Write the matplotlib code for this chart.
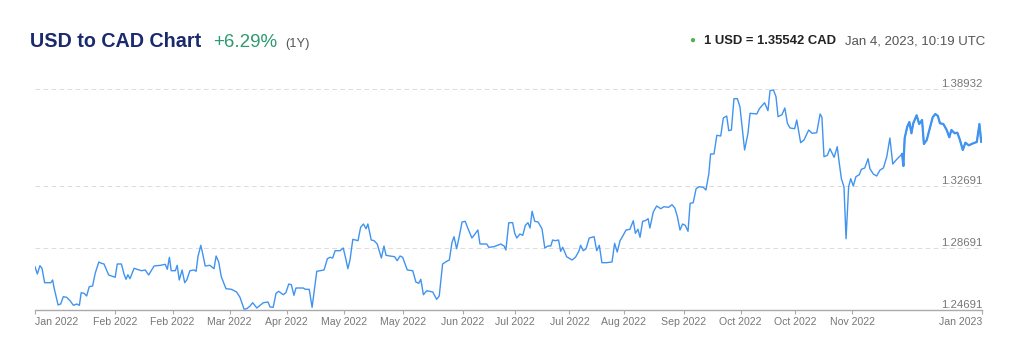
import numpy as np
import pandas as pd
import matplotlib
matplotlib.use("Agg")
import matplotlib.pyplot as plt

plt.rcParams['font.family'] = ['Liberation Sans', 'DejaVu Sans']

# days since 2022-01-04 and USD/CAD rate
days = [0.0, 0.9, 1.9, 2.7, 3.7, 6.1, 6.8, 7.3, 8.9, 9.9, 10.9, 12.2, 13.5, 14.8, 16.1, 17.1,
        17.8, 18.9, 19.9, 20.9, 22.2, 23.2, 24.6, 25.6, 26.6, 28.4, 30.9, 31.7, 33.3, 34.3, 35.1,
        35.8, 36.6, 38.2, 39.4, 41.0, 42.5, 43.8, 45.9, 48.4, 50.2, 51.0, 51.8, 52.5, 54.1, 54.8,
        55.6, 56.7, 57.7, 58.5, 59.7, 61.3, 62.1, 62.8, 63.9, 64.6, 65.6, 67.4, 69.0, 69.8, 70.8,
        71.8, 73.6, 75.7, 77.7, 79.0, 80.6, 81.6, 82.9, 83.9, 85.5, 88.0, 89.8, 90.6, 91.8, 92.9,
        93.9, 95.7, 96.7, 97.8, 98.8, 99.8, 100.6, 103.4, 104.2, 105.7, 106.8, 108.6, 109.8, 111.4,
        112.7, 113.7, 114.7, 115.7, 117.6, 118.8, 119.6, 120.6, 121.4, 122.5, 123.5, 124.5, 125.5,
        126.6, 127.6, 128.3, 129.6, 130.7, 131.9, 133.5, 134.5, 135.3, 136.8, 138.6, 139.6, 140.7,
        141.7, 143.5, 145.6, 146.8, 147.9, 148.7, 149.7, 151.0, 153.3, 154.8, 155.8, 157.1, 158.7,
        159.7, 160.7, 161.5, 162.5, 163.5, 164.6, 165.8, 166.9, 168.4, 169.2, 170.7, 171.5, 174.1,
        174.9, 176.9, 178.2, 179.5, 180.8, 181.5, 182.6, 184.1, 184.9, 185.7, 186.9, 188.0, 189.0,
        190.0, 190.8, 191.6, 192.6, 193.9, 195.4, 196.5, 197.7, 198.8, 199.5, 200.5, 201.8, 202.6,
        203.4, 204.9, 207.0, 208.3, 209.6, 210.3, 211.3, 212.4, 213.6, 215.5, 216.5, 217.5, 218.5,
        220.3, 222.4, 223.4, 224.4, 225.5, 226.7, 227.8, 229.3, 230.6, 231.4, 232.4, 233.2, 234.2,
        235.2, 236.3, 237.0, 238.3, 239.6, 241.2, 242.4, 244.2, 245.5, 246.6, 247.6, 248.6, 249.6,
        250.6, 251.7, 252.5, 253.7, 254.8, 256.0, 257.6, 258.6, 259.7, 260.4, 261.7, 262.8, 264.3,
        265.3, 266.6, 267.4, 268.4, 269.4, 270.7, 271.7, 273.5, 274.8, 275.6, 278.2, 279.2, 281.2,
        282.5, 283.3, 284.6, 285.6, 286.4, 287.9, 289.0, 290.0, 291.0, 292.8, 293.6, 295.1, 296.4,
        298.2, 299.5, 301.3, 302.6, 303.3, 304.1, 305.4, 306.4, 308.0, 309.2, 310.0, 310.8, 311.8,
        312.6, 313.6, 314.4, 315.4, 316.4, 317.7, 318.5, 319.8, 321.1, 321.8, 323.1, 324.4, 325.7,
        327.0, 328.3, 329.5, 330.6, 331.9, 332.9, 334.2, 334.7, 335.2, 336.2, 337.0, 337.8, 338.5,
        339.8, 340.8, 341.9, 342.6, 343.7, 344.7, 346.0, 347.0, 348.0, 348.8, 350.1, 351.4, 352.4,
        353.2, 354.5, 355.5, 356.5, 357.6, 358.6, 359.9, 361.6, 363.0, 364.0, 364.7]

rates = [1.27485, 1.27014, 1.27549, 1.27381, 1.26452, 1.26452, 1.26626, 1.26156, 1.25014, 1.25078,
         1.25549, 1.25510, 1.25291, 1.24994, 1.25078, 1.24994, 1.25807, 1.25768, 1.25594, 1.26194,
         1.26239, 1.27059, 1.27788, 1.27704, 1.27659, 1.26949, 1.26801, 1.27659, 1.27659, 1.27014,
         1.26672, 1.26968, 1.26710, 1.27381, 1.27317, 1.27226, 1.27272, 1.26949, 1.27530, 1.27575,
         1.27639, 1.27317, 1.28091, 1.27226, 1.27226, 1.27575, 1.26626, 1.27272, 1.26452, 1.26626,
         1.27226, 1.27272, 1.27188, 1.28130, 1.28865, 1.28349, 1.27530, 1.27575, 1.27356, 1.28175,
         1.27788, 1.26839, 1.26065, 1.26026, 1.25852, 1.25510, 1.24736, 1.24775, 1.24949, 1.25162,
         1.24820, 1.25162, 1.25207, 1.24885, 1.24865, 1.25768, 1.25897, 1.25678, 1.25807, 1.26368,
         1.26323, 1.25639, 1.26110, 1.26110, 1.26026, 1.26026, 1.24865, 1.27188, 1.27226, 1.27272,
         1.28001, 1.28091, 1.28046, 1.28517, 1.28517, 1.28691, 1.28130, 1.27356, 1.27917, 1.29252,
         1.29207, 1.29162, 1.30026, 1.30239, 1.29936, 1.30239, 1.29207, 1.29162, 1.28949, 1.28046,
         1.28820, 1.28220, 1.28175, 1.28130, 1.27872, 1.28175, 1.28091, 1.27272, 1.27226, 1.26497,
         1.26414, 1.26672, 1.25678, 1.25936, 1.25852, 1.25381, 1.25594, 1.27659, 1.27833, 1.27917,
         1.29033, 1.29420, 1.28646, 1.29420, 1.30368, 1.30414, 1.29936, 1.29336, 1.29510, 1.29852,
         1.28949, 1.28949, 1.28736, 1.28775, 1.28865, 1.28949, 1.28820, 1.28562, 1.30323, 1.30323,
         1.29639, 1.29336, 1.29594, 1.29510, 1.30156, 1.30323, 1.29981, 1.31059, 1.30414, 1.30368,
         1.29936, 1.28691, 1.28820, 1.28820, 1.29207, 1.29162, 1.29207, 1.28478, 1.28736, 1.28130,
         1.27917, 1.28091, 1.28478, 1.28865, 1.28517, 1.28646, 1.29336, 1.29420, 1.28517, 1.28865,
         1.27743, 1.27743, 1.27788, 1.28994, 1.28433, 1.29162, 1.29510, 1.29852, 1.29897, 1.30452,
         1.29639, 1.29897, 1.29381, 1.30414, 1.30452, 1.30581, 1.29981, 1.31014, 1.31401, 1.31226,
         1.31356, 1.31317, 1.31485, 1.31272, 1.30710, 1.29852, 1.30239, 1.30156, 1.29768, 1.31575,
         1.31614, 1.32517, 1.32646, 1.32607, 1.32433, 1.33465, 1.34756, 1.34756, 1.35962, 1.35917,
         1.37078, 1.37207, 1.36259, 1.36304, 1.38323, 1.38323, 1.37807, 1.35014, 1.36091, 1.37381,
         1.37336, 1.37678, 1.38065, 1.37549, 1.38839, 1.38885, 1.38452, 1.37162, 1.37291, 1.37723,
         1.36736, 1.36433, 1.36388, 1.36949, 1.35485, 1.35659, 1.36304, 1.36091, 1.36130, 1.37336,
         1.37123, 1.34581, 1.34671, 1.35097, 1.34543, 1.35226, 1.34156, 1.33162, 1.32646, 1.29291,
         1.32646, 1.33162, 1.32691, 1.33291, 1.33420, 1.33768, 1.33852, 1.34452, 1.33807, 1.33465,
         1.33336, 1.33723, 1.33852, 1.34581, 1.35788, 1.34110, 1.34368, 1.34543, 1.34756, 1.33981,
         1.35788, 1.36517, 1.36820, 1.36091, 1.36736, 1.37252, 1.36691, 1.36949, 1.35401, 1.35659,
         1.36304, 1.37123, 1.37336, 1.37207, 1.36736, 1.36691, 1.36304, 1.35833, 1.36304, 1.36091,
         1.36130, 1.35659, 1.35014, 1.35485, 1.35317, 1.35446, 1.35530, 1.36691, 1.35542]

y_ticks = [1.24691, 1.28691, 1.32691, 1.38932]
tick_dates = ["2022-01-04", "2022-02-04", "2022-02-26", "2022-03-20", "2022-04-11", "2022-05-03",
              "2022-05-26", "2022-06-18", "2022-07-08", "2022-07-29", "2022-08-19", "2022-09-11",
              "2022-10-03", "2022-10-24", "2022-11-15", "2023-01-04"]
tick_labels = ["Jan 2022", "Feb 2022", "Feb 2022", "Mar 2022", "Apr 2022", "May 2022", "May 2022",
               "Jun 2022", "Jul 2022", "Jul 2022", "Aug 2022", "Sep 2022", "Oct 2022", "Oct 2022",
               "Nov 2022", "Jan 2023"]

start = pd.Timestamp("2022-01-04")
dates = start + pd.to_timedelta(days, unit="D")
d = np.array(days)
r = np.array(rates)

fig = plt.figure(figsize=(10.24, 3.47), dpi=100)
ax = fig.add_axes([35 / 1024, 0.10663, 947 / 1024, 0.6481])

line_color = "#4193f0"
ax.plot(dates, r, color=line_color, lw=1.0)
# intraday part at the end is drawn denser
late = d >= 334
ax.plot(dates[late], r[late], color=line_color, lw=1.6)

ax.set_xlim(start, pd.Timestamp("2023-01-04"))
ax.set_ylim(1.24691, 1.392)

ax.set_yticks(y_ticks)
ax.yaxis.grid(True, color="#dddddd", lw=0.75, linestyle=(0, (4.5, 3.2)))
ax.tick_params(axis="y", length=0, labelleft=False)
for v in y_ticks:
    ax.text(1.0, v, f"{v:.5f}", transform=ax.get_yaxis_transform(), ha="right", va="bottom",
            fontsize=8.2, color="#777777")

ax.set_xticks(pd.to_datetime(tick_dates))
ax.set_xticklabels(tick_labels)
ax.tick_params(axis="x", length=3, width=0.8, color="#aaaaaa", labelsize=7.6,
               labelcolor="#777777", pad=2)
labels = ax.get_xticklabels()
labels[0].set_ha("left")
labels[-1].set_ha("right")

for s in ["left", "top", "right"]:
    ax.spines[s].set_visible(False)
ax.spines["bottom"].set_color("#aaaaaa")
ax.spines["bottom"].set_linewidth(1.0)

# header
H = 347
fig.text(30.5 / 1024, 1 - 47 / H, "USD to CAD Chart", fontsize=14.2, fontweight="bold",
         color="#1a2a6c", va="baseline")
fig.text(213 / 1024, 1 - 47 / H, "+6.29%", fontsize=13.5, color="#2e9a72", va="baseline")
fig.text(285 / 1024, 1 - 47 / H, "(1Y)", fontsize=9.3, color="#555555", va="baseline")

fig.text(692 / 1024, 1 - 40 / H, "\u25cf", fontsize=7, color="#4caf50", ha="center", va="center")
fig.text(704 / 1024, 1 - 44 / H, "1 USD = 1.35542 CAD", fontsize=9.4, fontweight="bold",
         color="#222222", va="baseline")
fig.text(985 / 1024, 1 - 44 / H, "Jan 4, 2023, 10:19 UTC", fontsize=9.5, color="#555555",
         ha="right", va="baseline")

fig.savefig("out.png", dpi=100, facecolor="white")
